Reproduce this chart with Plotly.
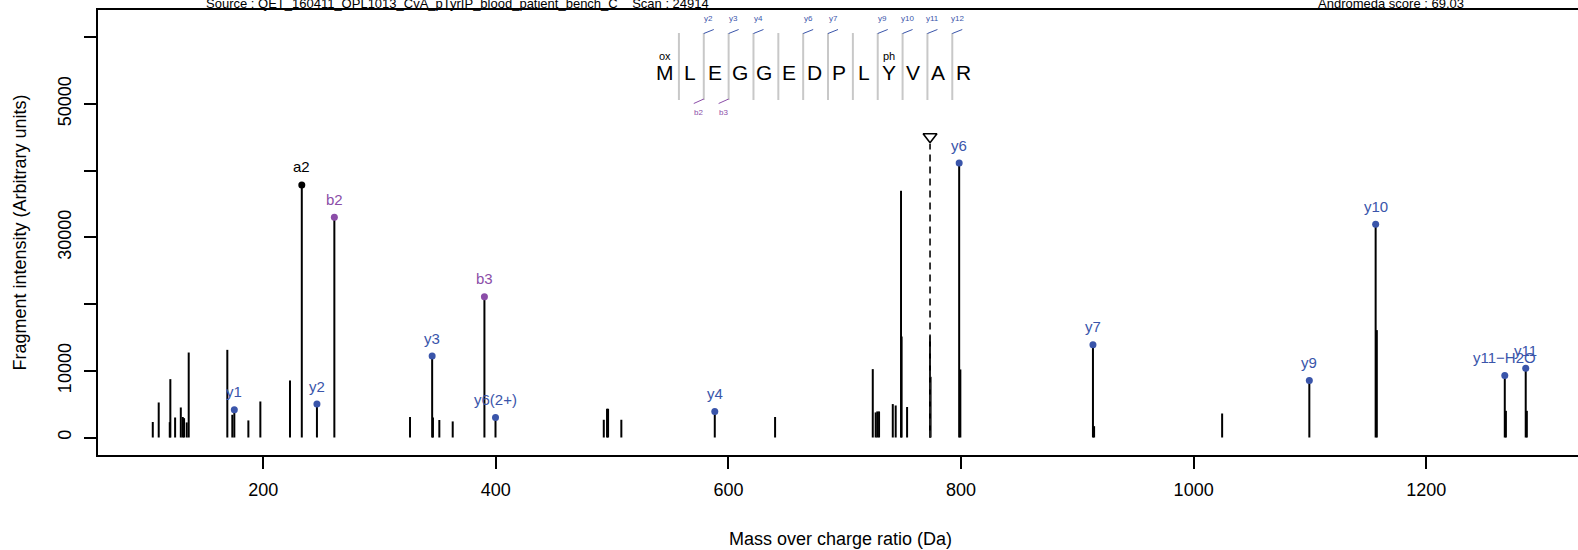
import plotly.graph_objects as go

# ---------------- data ----------------
peak_mz = [105.0, 110.1, 119.6, 120.1, 124.2, 129.1, 130.8, 131.9, 134.2, 135.9,
           169.1, 173.4, 187.2, 197.5, 223.0, 326.2, 345.9, 351.4, 362.9,
           492.8, 495.6, 496.5, 507.9, 640.1, 724.1, 726.6, 728.0, 729.5,
           741.3, 743.8, 748.4, 748.9, 753.6, 773.3, 773.8, 799.4, 914.4,
           1024.5, 1157.5, 1268.5, 1286.5]
peak_int = [2320, 5250, 2300, 8750, 3000, 4500, 3070, 2900, 2260, 12740,
            13140, 3410, 2560, 5400, 8550, 3070, 3000, 2620, 2410,
            2660, 4310, 4310, 2660, 3070, 10250, 3760, 3910, 3910,
            5010, 4800, 36990, 15140, 4570, 15200, 9100, 10200, 1700,
            3600, 16100, 4000, 4000]

ion_labels = ["a2", "b2", "b3", "y1", "y2", "y3", "y4", "y6(2+)", "y6", "y7",
              "y9", "y10", "y11\u2212H2O", "y11"]
ion_type = ["a", "b", "b", "y", "y", "y", "y", "y", "y", "y", "y", "y", "y", "y"]
ion_mz = [233.13, 261.13, 390.17, 175.12, 246.16, 345.22, 588.25, 399.70,
          798.39, 913.42, 1099.48, 1156.50, 1267.54, 1285.55]
ion_int = [37860, 33030, 21120, 4160, 5010, 12200, 3910, 3010,
           41140, 13900, 8550, 31960, 9300, 10400]

precursor_mz = 773.34
precursor_int = 44000
precursor_marker_int = 45100

sequence = list("MLEGGEDPLYVAR")
modifications = {0: "ox", 9: "ph"}
y_sites = [2, 3, 4, 6, 7, 9, 10, 11, 12]
y_site_labels = ["y2", "y3", "y4", "y6", "y7", "y9", "y10", "y11", "y12"]
b_sites = [2, 3]
b_site_labels = ["b2", "b3"]

x_ticks = [200, 400, 600, 800, 1000, 1200]
y_ticks = [0, 10000, 20000, 30000, 40000, 50000, 60000]
y_ticktext = ["0", "10000", "", "30000", "", "50000", ""]

title_left = "Source : QET_160411_OPL1013_CvA_pTyrIP_blood_patient_bench_C\u00a0\u00a0\u00a0\u00a0Scan : 24914"
title_right = "Andromeda score : 69.03"
x_title = "Mass over charge ratio (Da)"
y_title = "Fragment intensity (Arbitrary units)"

# ---------------- style ----------------
FONT = "Liberation Sans, Arial, sans-serif"
W, H = 1578, 550
ML, MR, MT, MB = 98, 0, 10, 95
PW, PH = W - ML - MR, H - MT - MB
COL = {"a": "#000000", "b": "#8B4DA8", "y": "#3A55AA"}
SEP_COL = "#C8C8C8"


def px_x(px):
    return (px - ML) / PW


def px_y(py):
    return 1 - (py - MT) / PH


fig = go.Figure()

# all stems (unannotated + annotated)
xs, ys = [], []
for m, i in zip(peak_mz + ion_mz, peak_int + ion_int):
    xs += [m, m, None]
    ys += [0, i, None]
fig.add_trace(go.Scatter(x=xs, y=ys, mode="lines",
                         line=dict(color="black", width=2),
                         hoverinfo="skip", showlegend=False))

# precursor
fig.add_trace(go.Scatter(x=[precursor_mz, precursor_mz], y=[0, precursor_int],
                         mode="lines",
                         line=dict(color="#222222", width=1.8, dash="7px,5px"),
                         hoverinfo="skip", showlegend=False))
fig.add_trace(go.Scatter(x=[precursor_mz], y=[precursor_marker_int], mode="markers",
                         marker=dict(symbol="triangle-down-open", size=12,
                                     color="black", line=dict(width=1.6, color="black")),
                         hoverinfo="skip", showlegend=False))

# annotated ion dots
fig.add_trace(go.Scatter(x=ion_mz, y=ion_int, mode="markers",
                         marker=dict(size=7, color=[COL[t] for t in ion_type]),
                         hoverinfo="skip", showlegend=False))

annotations = []
for lab, t, m, i in zip(ion_labels, ion_type, ion_mz, ion_int):
    annotations.append(dict(x=m, y=i, xref="x", yref="y", text=lab, showarrow=False,
                            yshift=18, xanchor="center", yanchor="middle",
                            font=dict(family=FONT, size=15, color=COL[t])))

# ---------------- peptide header ----------------
LETTER_X0, PITCH = 665.0, 24.85
SEP_X0 = LETTER_X0 + PITCH / 2 + 1.5
shapes = []
for k, aa in enumerate(sequence):
    cx = LETTER_X0 + k * PITCH
    annotations.append(dict(x=px_x(cx), y=px_y(73), xref="paper", yref="paper",
                            text=aa, showarrow=False, xanchor="center", yanchor="middle",
                            font=dict(family=FONT, size=21, color="black")))
    if k in modifications:
        annotations.append(dict(x=px_x(cx), y=px_y(56), xref="paper", yref="paper",
                                text=modifications[k], showarrow=False,
                                xanchor="center", yanchor="middle",
                                font=dict(family=FONT, size=11, color="black")))
for s in range(1, len(sequence)):
    sx = SEP_X0 + (s - 1) * PITCH
    shapes.append(dict(type="line", xref="paper", yref="paper",
                       x0=px_x(sx), x1=px_x(sx), y0=px_y(33), y1=px_y(100),
                       line=dict(color=SEP_COL, width=2)))
for s, lab in zip(y_sites, y_site_labels):
    sx = SEP_X0 + (s - 1) * PITCH
    shapes.append(dict(type="line", xref="paper", yref="paper",
                       x0=px_x(sx), x1=px_x(sx + 10), y0=px_y(33.5), y1=px_y(29.5),
                       line=dict(color=COL["y"], width=1)))
    annotations.append(dict(x=px_x(sx + 5), y=px_y(19), xref="paper", yref="paper",
                            text=lab, showarrow=False, xanchor="center", yanchor="middle",
                            font=dict(family=FONT, size=8, color=COL["y"])))
for s, lab in zip(b_sites, b_site_labels):
    sx = SEP_X0 + (s - 1) * PITCH
    shapes.append(dict(type="line", xref="paper", yref="paper",
                       x0=px_x(sx), x1=px_x(sx - 10), y0=px_y(99), y1=px_y(103.5),
                       line=dict(color=COL["b"], width=1)))
    annotations.append(dict(x=px_x(sx - 5), y=px_y(113), xref="paper", yref="paper",
                            text=lab, showarrow=False, xanchor="center", yanchor="middle",
                            font=dict(family=FONT, size=8, color=COL["b"])))

# titles
annotations.append(dict(x=px_x(457), y=px_y(3.5), xref="paper", yref="paper",
                        text=title_left, showarrow=False, xanchor="center", yanchor="middle",
                        font=dict(family=FONT, size=13, color="black")))
annotations.append(dict(x=px_x(1391), y=px_y(3.5), xref="paper", yref="paper",
                        text=title_right, showarrow=False, xanchor="center", yanchor="middle",
                        font=dict(family=FONT, size=13, color="black")))
annotations.append(dict(x=px_x(840), y=px_y(539), xref="paper", yref="paper",
                        text=x_title, showarrow=False, xanchor="center", yanchor="middle",
                        font=dict(family=FONT, size=18, color="black")))
annotations.append(dict(x=px_x(19), y=px_y(232.5), xref="paper", yref="paper",
                        text=y_title, showarrow=False, xanchor="center", yanchor="middle",
                        textangle=-90,
                        font=dict(family=FONT, size=18, color="black")))

fig.update_layout(
    width=W, height=H,
    margin=dict(l=ML, r=MR, t=MT, b=MB, pad=0),
    paper_bgcolor="white", plot_bgcolor="white",
    font=dict(family=FONT, size=18, color="black"),
    showlegend=False,
    annotations=annotations,
    shapes=shapes,
    xaxis=dict(range=[57.9, 1330.5], tickvals=x_ticks, ticks="outside", ticklen=12,
               tickwidth=1.5, tickcolor="black", showline=True, linecolor="black",
               linewidth=2, mirror=True, showgrid=False, zeroline=False,
               tickfont=dict(family=FONT, size=18), ticklabelstandoff=5),
    yaxis=dict(range=[-2624, 64093], tickvals=y_ticks, ticktext=y_ticktext,
               ticks="outside", ticklen=12, tickwidth=1.5, tickcolor="black",
               showline=True, linecolor="black", linewidth=2, mirror=False,
               showgrid=False, zeroline=False, tickangle=-90,
               tickfont=dict(family=FONT, size=18), ticklabelstandoff=6),
)

fig.write_html("out.html", config={"displayModeBar": False},
               post_script="document.body.style.margin='0';document.body.style.overflow='hidden';")
